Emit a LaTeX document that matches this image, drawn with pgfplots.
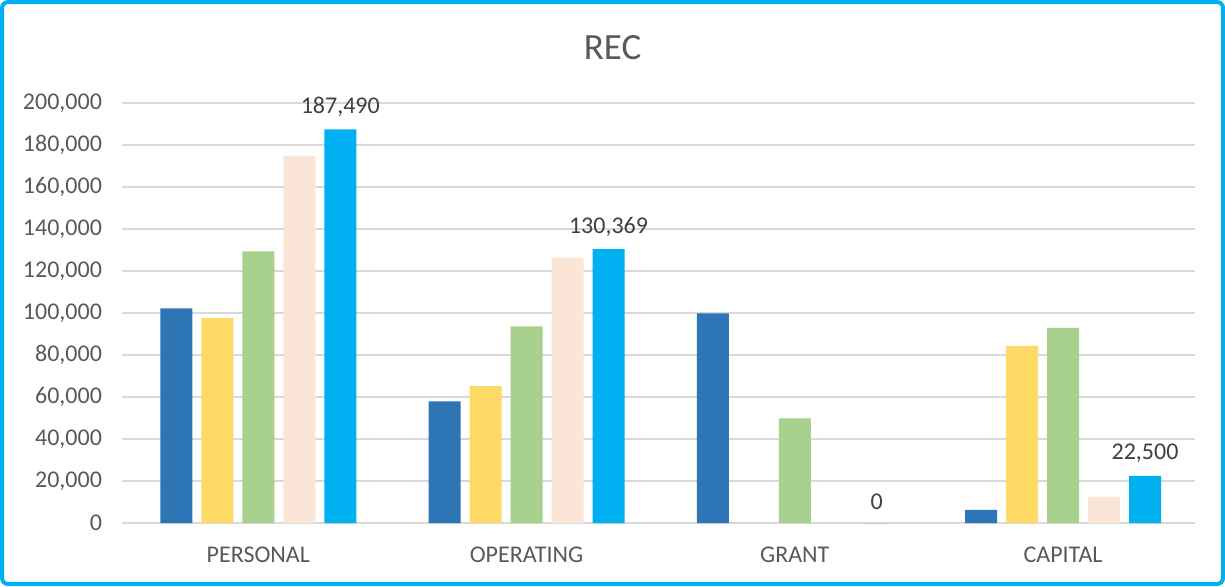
\documentclass[border=0pt]{standalone}
\usepackage{pgfplots}
\pgfplotsset{compat=1.18}
\usepackage{fontspec}
\setmainfont{Carlito}
\definecolor{sA}{HTML}{2E75B6}
\definecolor{sB}{HTML}{FFD966}
\definecolor{sC}{HTML}{A9D18E}
\definecolor{sD}{HTML}{FBE5D6}
\definecolor{sE}{HTML}{00B0F0}
\definecolor{tickc}{HTML}{595959}
\definecolor{labc}{HTML}{404040}
\definecolor{gridc}{HTML}{D9D9D9}
\begin{document}
\begin{tikzpicture}[x=1pt,y=1pt]
\path[use as bounding box] (0,0) rectangle (612.5,293);
\fill[white] (0,0) rectangle (612.5,293);
\draw[sE, line width=2pt, rounded corners=3pt] (1,1) rectangle (611.5,292);
\node[font=\fontsize{18.5}{22}\selectfont, text=tickc] at (306.25,269) {REC};
\begin{axis}[
  at={(61pt,31.5pt)}, anchor=south west,
  scale only axis, width=536.5pt, height=210pt,
  ybar=4.5pt, bar width=16pt,
  xmin=-0.508, xmax=3.492, ymin=0, ymax=200000,
  xtick={0,1,2,3}, xticklabels={PERSONAL,OPERATING,GRANT,CAPITAL},
  ytick={0,20000,40000,60000,80000,100000,120000,140000,160000,180000,200000},
  yticklabels={0,{20,000},{40,000},{60,000},{80,000},{100,000},{120,000},{140,000},{160,000},{180,000},{200,000}},
  scaled y ticks=false,
  ymajorgrids, major grid style={gridc, line width=0.75pt},
  axis line style={draw=none},
  axis x line*=bottom, axis y line*=left,
  x axis line style={draw=gridc, line width=0.75pt},
  tick style={draw=none},
  ticklabel style={font=\fontsize{12}{14}\selectfont, text=tickc},
  yticklabel style={xshift=-6.5pt},
  xticklabel style={yshift=-4pt},
  clip=false,
]
\addplot[fill=sA, draw=none] coordinates {(0,102200) (1,57900) (2,99800) (3,6200)};
\addplot[fill=sB, draw=none] coordinates {(0,97600) (1,65200) (2,0) (3,84400)};
\addplot[fill=sC, draw=none] coordinates {(0,129400) (1,93600) (2,49800) (3,92900)};
\addplot[fill=sD, draw=none] coordinates {(0,174800) (1,126300) (2,0) (3,12400)};
\addplot[fill=sE, draw=none, point meta=explicit symbolic, nodes near coords,
  every node near coord/.append style={font=\fontsize{12}{14}\selectfont, text=labc, yshift=3pt}]
  coordinates {(0,187490) [187,490] (1,130369) [130,369] (2,0) [0] (3,22500) [22,500]};
\end{axis}
\end{tikzpicture}
\end{document}
